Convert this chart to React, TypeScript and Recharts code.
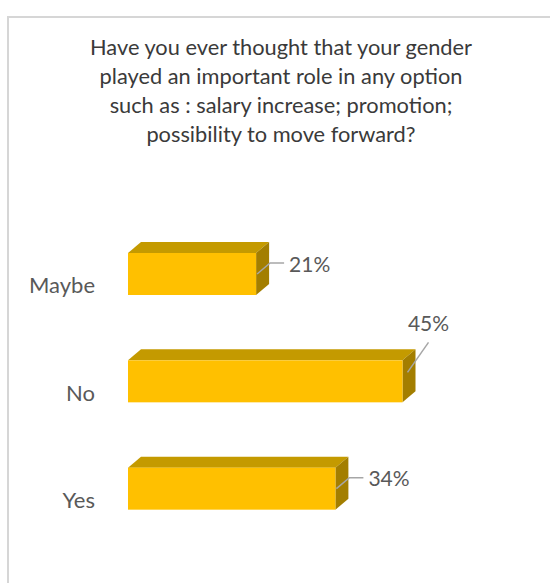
import { BarChart, Bar, XAxis, YAxis, LabelList } from "recharts";

const categories = ["Maybe", "No", "Yes"];
const shares = [21, 45, 34];
const titleLines = [
  "Have you ever thought that your gender",
  "played an important role in any option",
  "such as : salary increase; promotion;",
  "possibility to move forward?",
];

const data = categories.map((name, i) => ({ name, value: shares[i] }));

const FONT = "Lato, 'Open Sans', sans-serif";
const DEPTH_X = 13;
const DEPTH_Y = 11;

function Box3D(props: any) {
  const { x, y, width, height } = props;
  if (width <= 0) return null;
  const r = x + width;
  const b = y + height;
  return (
    <g>
      <polygon
        points={`${x},${y} ${x + DEPTH_X},${y - DEPTH_Y} ${r + DEPTH_X},${y - DEPTH_Y} ${r},${y}`}
        fill="#C49A00"
      />
      <polygon
        points={`${r},${y} ${r + DEPTH_X},${y - DEPTH_Y} ${r + DEPTH_X},${b - DEPTH_Y} ${r},${b}`}
        fill="#A37E00"
      />
      <rect x={x} y={y} width={width} height={height} fill="#FFC000" />
    </g>
  );
}

function ValueLabel(props: any) {
  const { x, y, width, value } = props;
  const r = x + width;
  const stroke = "#A6A6A6";
  const txt = { fontFamily: FONT, fontSize: 21, fill: "#595959" };
  if (value >= 40) {
    // long bar: label sits above with a straight diagonal leader
    return (
      <g>
        <line x1={r + 5} y1={y + 12} x2={r + 26} y2={y - 18} stroke={stroke} strokeWidth={1.5} />
        <text x={r + 26} y={y - 38} textAnchor="middle" dominantBaseline="central" {...txt}>
          {value}%
        </text>
      </g>
    );
  }
  return (
    <g>
      <polyline
        points={`${r + 1},${y + 21} ${r + 14},${y + 10} ${r + 28},${y + 10}`}
        fill="none"
        stroke={stroke}
        strokeWidth={1.5}
      />
      <text x={r + 33} y={y + 10} dominantBaseline="central" {...txt}>
        {value}%
      </text>
    </g>
  );
}

function CategoryTick(props: any) {
  const { x, y, payload } = props;
  return (
    <text
      x={x - 2}
      y={y + 11}
      textAnchor="end"
      dominantBaseline="central"
      fontFamily={FONT}
      fontSize={22}
      fill="#595959"
    >
      {payload.value}
    </text>
  );
}

export default function App() {
  return (
    <div
      style={{
        position: "absolute",
        left: 0,
        top: 0,
        width: 550,
        height: 583,
        background: "#fff",
        overflow: "hidden",
      }}
    >
      <div
        style={{
          position: "absolute",
          left: 7,
          top: 16,
          width: 600,
          height: 600,
          borderLeft: "2px solid #D6D6D6",
          borderTop: "2px solid #D6D6D6",
        }}
      />
      <div
        style={{
          position: "absolute",
          left: 61,
          top: 32,
          width: 440,
          textAlign: "center",
          fontFamily: FONT,
          fontSize: 21.8,
          lineHeight: "29px",
          color: "#3A3A3A",
        }}
      >
        {titleLines.map((l) => (
          <div key={l}>{l}</div>
        ))}
      </div>
      <div style={{ position: "absolute", left: 0, top: 0 }}>
        <BarChart
          width={550}
          height={583}
          data={data}
          layout="vertical"
          margin={{ top: 220, right: 117, bottom: 41, left: 0 }}
        >
          <XAxis type="number" domain={[0, 50]} hide />
          <YAxis
            type="category"
            dataKey="name"
            width={128}
            axisLine={false}
            tickLine={false}
            tickSize={0}
            tickMargin={31}
            tick={<CategoryTick />}
          />
          <Bar dataKey="value" barSize={42} shape={<Box3D />} isAnimationActive={false}>
            <LabelList dataKey="value" content={<ValueLabel />} />
          </Bar>
        </BarChart>
      </div>
    </div>
  );
}
